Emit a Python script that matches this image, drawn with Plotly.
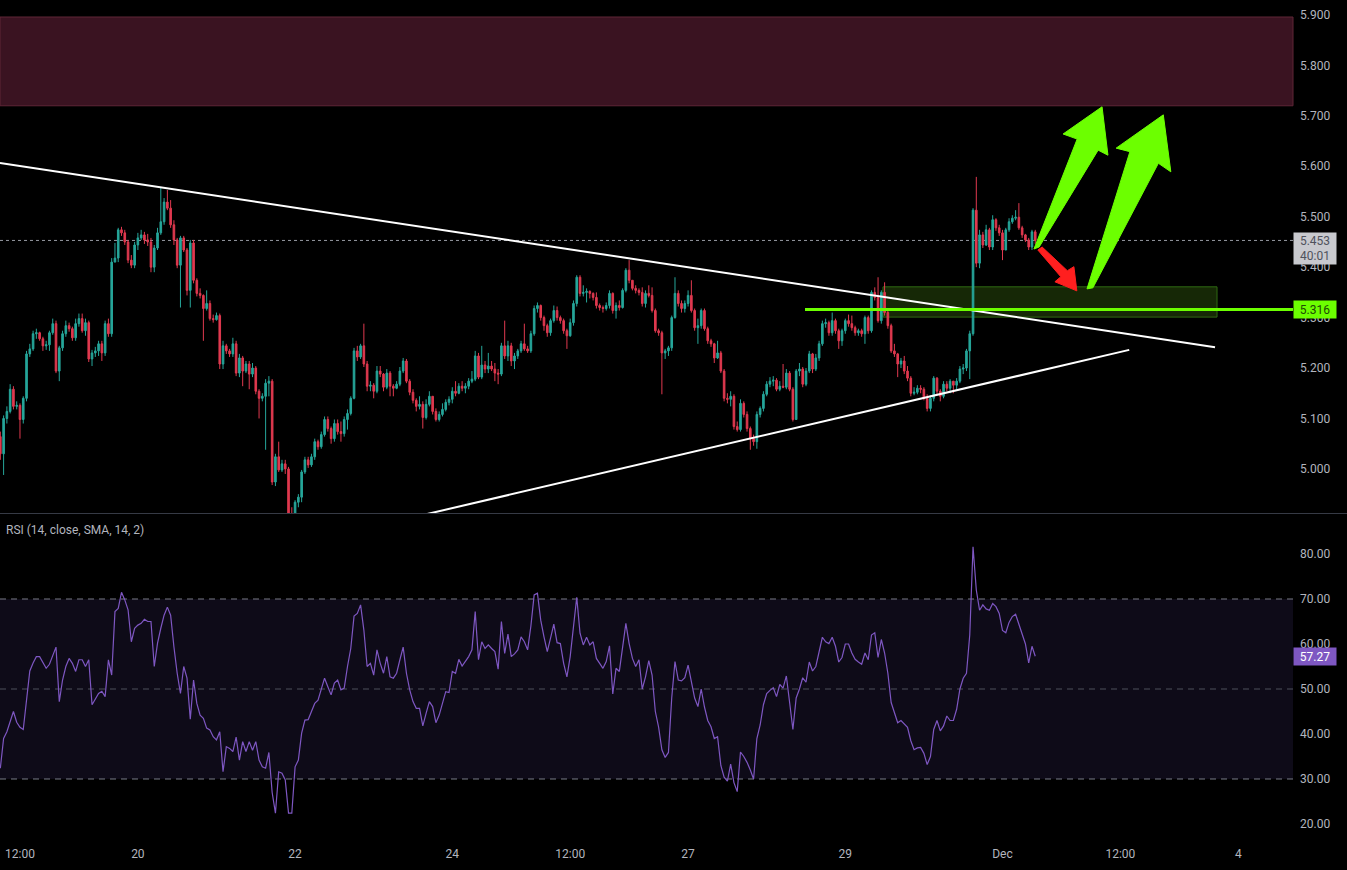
import pandas as pd
import plotly.graph_objects as go

# ---------------- data (hourly candles) ----------------
opens = [
    5.064, 5.030, 5.100, 5.114, 5.158, 5.124, 5.126, 5.098, 5.140, 5.228,
    5.238, 5.268, 5.270, 5.258, 5.244, 5.246, 5.270, 5.288, 5.194, 5.240,
    5.268, 5.284, 5.278, 5.260, 5.288, 5.298, 5.274, 5.290, 5.218, 5.230,
    5.234, 5.248, 5.230, 5.288, 5.268, 5.410, 5.418, 5.474, 5.468, 5.450,
    5.414, 5.404, 5.444, 5.458, 5.464, 5.454, 5.450, 5.400, 5.438, 5.468,
    5.490, 5.529, 5.517, 5.484, 5.454, 5.404, 5.458, 5.434, 5.354, 5.448,
    5.374, 5.348, 5.344, 5.318, 5.328, 5.298, 5.296, 5.304, 5.208, 5.244,
    5.234, 5.228, 5.248, 5.190, 5.220, 5.194, 5.208, 5.188, 5.200, 5.154,
    5.140, 5.144, 5.170, 5.174, 4.974, 5.024, 4.998, 5.010, 5.000, 4.910,
    4.904, 4.934, 4.944, 4.994, 5.018, 5.008, 5.024, 5.054, 5.044, 5.068,
    5.098, 5.080, 5.060, 5.090, 5.074, 5.070, 5.098, 5.110, 5.140, 5.234,
    5.222, 5.244, 5.208, 5.164, 5.166, 5.154, 5.194, 5.188, 5.162, 5.190,
    5.164, 5.160, 5.168, 5.194, 5.214, 5.174, 5.152, 5.136, 5.124, 5.128,
    5.102, 5.128, 5.144, 5.114, 5.098, 5.108, 5.118, 5.132, 5.138, 5.154,
    5.150, 5.164, 5.160, 5.164, 5.174, 5.178, 5.224, 5.182, 5.206, 5.198,
    5.204, 5.198, 5.190, 5.188, 5.244, 5.224, 5.244, 5.214, 5.224, 5.234,
    5.248, 5.238, 5.234, 5.268, 5.318, 5.324, 5.300, 5.284, 5.270, 5.294,
    5.314, 5.300, 5.294, 5.274, 5.264, 5.290, 5.328, 5.380, 5.348, 5.350,
    5.352, 5.348, 5.340, 5.324, 5.320, 5.318, 5.324, 5.348, 5.314, 5.324,
    5.320, 5.354, 5.394, 5.374, 5.358, 5.354, 5.350, 5.328, 5.348, 5.344,
    5.314, 5.274, 5.270, 5.230, 5.234, 5.240, 5.300, 5.348, 5.328, 5.318,
    5.328, 5.344, 5.314, 5.280, 5.284, 5.314, 5.278, 5.254, 5.248, 5.220,
    5.230, 5.194, 5.140, 5.138, 5.144, 5.084, 5.078, 5.130, 5.108, 5.080,
    5.060, 5.054, 5.108, 5.120, 5.148, 5.168, 5.174, 5.176, 5.158, 5.164,
    5.162, 5.190, 5.158, 5.098, 5.194, 5.198, 5.168, 5.194, 5.228, 5.198,
    5.220, 5.248, 5.288, 5.290, 5.270, 5.294, 5.274, 5.254, 5.274, 5.294,
    5.288, 5.280, 5.270, 5.274, 5.268, 5.300, 5.274, 5.350, 5.340, 5.294,
    5.350, 5.310, 5.284, 5.234, 5.228, 5.208, 5.214, 5.194, 5.180, 5.150,
    5.152, 5.160, 5.158, 5.140, 5.120, 5.140, 5.180, 5.154, 5.144, 5.168,
    5.160, 5.174, 5.166, 5.174, 5.198, 5.200, 5.234, 5.268, 5.513, 5.408,
    5.464, 5.444, 5.474, 5.440, 5.494, 5.478, 5.468, 5.434, 5.474, 5.490,
    5.497, 5.499, 5.478, 5.464, 5.454, 5.440, 5.470,
]
highs = [
    5.074, 5.106, 5.124, 5.168, 5.164, 5.134, 5.130, 5.144, 5.234, 5.248,
    5.274, 5.278, 5.272, 5.262, 5.254, 5.274, 5.298, 5.294, 5.244, 5.274,
    5.294, 5.290, 5.282, 5.298, 5.308, 5.308, 5.298, 5.294, 5.236, 5.242,
    5.254, 5.254, 5.294, 5.298, 5.418, 5.448, 5.478, 5.480, 5.474, 5.454,
    5.424, 5.450, 5.468, 5.474, 5.470, 5.466, 5.458, 5.444, 5.478, 5.559,
    5.537, 5.553, 5.533, 5.493, 5.458, 5.462, 5.462, 5.438, 5.454, 5.454,
    5.378, 5.358, 5.346, 5.354, 5.334, 5.306, 5.310, 5.308, 5.254, 5.248,
    5.238, 5.260, 5.254, 5.228, 5.224, 5.214, 5.214, 5.210, 5.204, 5.158,
    5.150, 5.178, 5.184, 5.178, 5.030, 5.054, 5.018, 5.018, 5.004, 4.924,
    4.938, 4.950, 4.998, 5.024, 5.024, 5.030, 5.060, 5.058, 5.074, 5.104,
    5.104, 5.084, 5.098, 5.098, 5.094, 5.104, 5.118, 5.144, 5.240, 5.244,
    5.248, 5.288, 5.214, 5.174, 5.170, 5.204, 5.204, 5.190, 5.198, 5.194,
    5.168, 5.174, 5.202, 5.220, 5.218, 5.178, 5.158, 5.140, 5.144, 5.134,
    5.138, 5.154, 5.144, 5.120, 5.114, 5.130, 5.138, 5.144, 5.162, 5.174,
    5.170, 5.174, 5.170, 5.180, 5.194, 5.234, 5.230, 5.244, 5.214, 5.230,
    5.214, 5.210, 5.198, 5.250, 5.294, 5.254, 5.250, 5.230, 5.238, 5.254,
    5.288, 5.244, 5.274, 5.324, 5.330, 5.326, 5.304, 5.288, 5.298, 5.324,
    5.322, 5.304, 5.298, 5.278, 5.298, 5.334, 5.384, 5.384, 5.364, 5.358,
    5.354, 5.350, 5.350, 5.328, 5.324, 5.330, 5.354, 5.350, 5.330, 5.334,
    5.358, 5.398, 5.414, 5.374, 5.364, 5.358, 5.360, 5.354, 5.364, 5.360,
    5.318, 5.278, 5.274, 5.238, 5.244, 5.304, 5.380, 5.354, 5.334, 5.334,
    5.354, 5.374, 5.318, 5.298, 5.318, 5.318, 5.282, 5.258, 5.250, 5.254,
    5.234, 5.198, 5.150, 5.154, 5.148, 5.094, 5.138, 5.134, 5.114, 5.084,
    5.068, 5.114, 5.124, 5.154, 5.174, 5.182, 5.184, 5.180, 5.174, 5.208,
    5.198, 5.194, 5.162, 5.198, 5.210, 5.202, 5.200, 5.234, 5.230, 5.228,
    5.254, 5.294, 5.298, 5.294, 5.310, 5.298, 5.278, 5.278, 5.298, 5.306,
    5.304, 5.284, 5.278, 5.278, 5.304, 5.304, 5.354, 5.360, 5.380, 5.354,
    5.370, 5.314, 5.288, 5.248, 5.230, 5.220, 5.224, 5.204, 5.184, 5.162,
    5.166, 5.166, 5.162, 5.148, 5.146, 5.184, 5.182, 5.158, 5.174, 5.174,
    5.178, 5.174, 5.180, 5.204, 5.208, 5.238, 5.274, 5.517, 5.579, 5.474,
    5.470, 5.484, 5.478, 5.503, 5.497, 5.484, 5.474, 5.478, 5.497, 5.503,
    5.513, 5.527, 5.482, 5.466, 5.458, 5.474, 5.474,
]
lows = [
    5.018, 4.988, 5.090, 5.110, 5.118, 5.118, 5.060, 5.090, 5.134, 5.222,
    5.234, 5.258, 5.254, 5.234, 5.236, 5.234, 5.266, 5.190, 5.174, 5.234,
    5.262, 5.272, 5.254, 5.254, 5.282, 5.270, 5.264, 5.212, 5.204, 5.222,
    5.224, 5.214, 5.224, 5.262, 5.262, 5.410, 5.410, 5.462, 5.444, 5.408,
    5.398, 5.398, 5.434, 5.454, 5.446, 5.442, 5.390, 5.390, 5.434, 5.464,
    5.484, 5.513, 5.478, 5.444, 5.398, 5.320, 5.430, 5.344, 5.320, 5.368,
    5.342, 5.338, 5.254, 5.314, 5.294, 5.290, 5.294, 5.198, 5.198, 5.228,
    5.222, 5.222, 5.184, 5.182, 5.164, 5.190, 5.158, 5.182, 5.148, 5.100,
    5.134, 5.038, 5.144, 4.968, 4.966, 4.994, 4.994, 4.990, 4.874, 4.864,
    4.894, 4.924, 4.934, 4.990, 5.002, 5.004, 5.018, 5.038, 5.040, 5.064,
    5.074, 5.050, 5.054, 5.068, 5.054, 5.064, 5.078, 5.106, 5.138, 5.214,
    5.218, 5.202, 5.154, 5.154, 5.140, 5.150, 5.182, 5.154, 5.158, 5.144,
    5.144, 5.158, 5.164, 5.190, 5.170, 5.146, 5.130, 5.114, 5.118, 5.080,
    5.098, 5.124, 5.108, 5.094, 5.094, 5.104, 5.114, 5.126, 5.130, 5.144,
    5.148, 5.154, 5.150, 5.158, 5.170, 5.174, 5.178, 5.178, 5.190, 5.190,
    5.194, 5.174, 5.168, 5.184, 5.218, 5.214, 5.204, 5.198, 5.218, 5.230,
    5.234, 5.230, 5.230, 5.264, 5.310, 5.294, 5.274, 5.262, 5.264, 5.290,
    5.294, 5.288, 5.268, 5.238, 5.262, 5.284, 5.322, 5.342, 5.342, 5.330,
    5.338, 5.334, 5.318, 5.314, 5.310, 5.314, 5.318, 5.308, 5.298, 5.314,
    5.318, 5.350, 5.368, 5.354, 5.348, 5.344, 5.322, 5.320, 5.340, 5.310,
    5.270, 5.264, 5.148, 5.218, 5.224, 5.234, 5.298, 5.322, 5.310, 5.310,
    5.322, 5.310, 5.274, 5.248, 5.278, 5.274, 5.248, 5.242, 5.210, 5.218,
    5.190, 5.134, 5.130, 5.124, 5.078, 5.074, 5.074, 5.102, 5.074, 5.038,
    5.046, 5.040, 5.102, 5.114, 5.144, 5.162, 5.164, 5.154, 5.154, 5.160,
    5.158, 5.154, 5.094, 5.098, 5.184, 5.162, 5.164, 5.190, 5.190, 5.194,
    5.214, 5.244, 5.280, 5.264, 5.264, 5.268, 5.238, 5.244, 5.268, 5.282,
    5.274, 5.264, 5.264, 5.262, 5.248, 5.268, 5.270, 5.334, 5.290, 5.288,
    5.304, 5.278, 5.230, 5.222, 5.182, 5.200, 5.188, 5.174, 5.144, 5.146,
    5.148, 5.150, 5.136, 5.114, 5.114, 5.134, 5.148, 5.134, 5.140, 5.154,
    5.150, 5.150, 5.158, 5.170, 5.188, 5.194, 5.178, 5.264, 5.400, 5.398,
    5.438, 5.442, 5.434, 5.434, 5.472, 5.462, 5.414, 5.434, 5.470, 5.486,
    5.493, 5.474, 5.458, 5.450, 5.434, 5.434, 5.446,
]
closes = [
    5.030, 5.100, 5.114, 5.158, 5.124, 5.126, 5.098, 5.140, 5.228, 5.238,
    5.268, 5.270, 5.258, 5.244, 5.246, 5.270, 5.288, 5.194, 5.240, 5.268,
    5.284, 5.278, 5.260, 5.288, 5.298, 5.274, 5.290, 5.218, 5.230, 5.234,
    5.248, 5.230, 5.288, 5.268, 5.410, 5.418, 5.474, 5.468, 5.450, 5.414,
    5.404, 5.444, 5.458, 5.464, 5.454, 5.450, 5.400, 5.438, 5.468, 5.490,
    5.529, 5.517, 5.484, 5.454, 5.404, 5.458, 5.434, 5.354, 5.448, 5.374,
    5.348, 5.344, 5.318, 5.328, 5.298, 5.296, 5.304, 5.208, 5.244, 5.234,
    5.228, 5.248, 5.190, 5.220, 5.194, 5.208, 5.188, 5.200, 5.154, 5.140,
    5.144, 5.170, 5.174, 4.974, 5.024, 4.998, 5.010, 5.000, 4.910, 4.904,
    4.934, 4.944, 4.994, 5.018, 5.008, 5.024, 5.054, 5.044, 5.068, 5.098,
    5.080, 5.060, 5.090, 5.074, 5.070, 5.098, 5.110, 5.140, 5.234, 5.222,
    5.244, 5.208, 5.164, 5.166, 5.154, 5.194, 5.188, 5.162, 5.190, 5.164,
    5.160, 5.168, 5.194, 5.214, 5.174, 5.152, 5.136, 5.124, 5.128, 5.102,
    5.128, 5.144, 5.114, 5.098, 5.108, 5.118, 5.132, 5.138, 5.154, 5.150,
    5.164, 5.160, 5.164, 5.174, 5.178, 5.224, 5.182, 5.206, 5.198, 5.204,
    5.198, 5.190, 5.188, 5.244, 5.224, 5.244, 5.214, 5.224, 5.234, 5.248,
    5.238, 5.234, 5.268, 5.318, 5.324, 5.300, 5.284, 5.270, 5.294, 5.314,
    5.300, 5.294, 5.274, 5.264, 5.290, 5.328, 5.380, 5.348, 5.350, 5.352,
    5.348, 5.340, 5.324, 5.320, 5.318, 5.324, 5.348, 5.314, 5.324, 5.320,
    5.354, 5.394, 5.374, 5.358, 5.354, 5.350, 5.328, 5.348, 5.344, 5.314,
    5.274, 5.270, 5.230, 5.234, 5.240, 5.300, 5.348, 5.328, 5.318, 5.328,
    5.344, 5.314, 5.280, 5.284, 5.314, 5.278, 5.254, 5.248, 5.220, 5.230,
    5.194, 5.140, 5.138, 5.144, 5.084, 5.078, 5.130, 5.108, 5.080, 5.060,
    5.054, 5.108, 5.120, 5.148, 5.168, 5.174, 5.176, 5.158, 5.164, 5.162,
    5.190, 5.158, 5.098, 5.194, 5.198, 5.168, 5.194, 5.228, 5.198, 5.220,
    5.248, 5.288, 5.290, 5.270, 5.294, 5.274, 5.254, 5.274, 5.294, 5.288,
    5.280, 5.270, 5.274, 5.268, 5.300, 5.274, 5.350, 5.340, 5.294, 5.350,
    5.310, 5.284, 5.234, 5.228, 5.208, 5.214, 5.194, 5.180, 5.150, 5.152,
    5.160, 5.158, 5.140, 5.120, 5.140, 5.180, 5.154, 5.144, 5.168, 5.160,
    5.174, 5.166, 5.174, 5.198, 5.200, 5.234, 5.268, 5.513, 5.408, 5.464,
    5.444, 5.474, 5.440, 5.494, 5.478, 5.468, 5.434, 5.474, 5.490, 5.497,
    5.499, 5.478, 5.464, 5.454, 5.440, 5.470, 5.453,
]
rsi_values = [
    32.4, 39.0, 40.5, 43.0, 45.0, 42.6, 41.5, 41.0, 47.0, 54.0,
    55.8, 57.2, 57.2, 55.8, 54.6, 55.5, 57.5, 59.3, 47.2, 52.0,
    55.0, 56.8, 55.7, 53.9, 56.5, 56.5, 55.0, 56.5, 46.5, 47.9,
    49.0, 49.5, 48.3, 56.5, 53.1, 67.2, 67.9, 71.5, 69.8, 67.6,
    60.5, 63.5, 64.2, 64.6, 65.5, 65.0, 65.0, 55.0, 60.2, 63.5,
    66.4, 68.2, 66.4, 59.4, 53.5, 49.0, 55.0, 52.4, 43.3, 52.0,
    46.8, 44.2, 43.5, 41.3, 40.9, 39.4, 38.7, 40.5, 31.6, 37.2,
    36.8, 36.1, 39.3, 34.2, 38.3, 36.1, 38.3, 36.4, 38.3, 34.2,
    32.7, 32.4, 35.9, 27.0, 22.4, 31.6, 31.3, 29.8, 22.4, 22.4,
    32.7, 34.2, 40.2, 43.1, 43.2, 45.0, 46.8, 47.5, 50.0, 52.4,
    50.5, 48.7, 51.3, 52.0, 49.8, 50.2, 55.0, 59.0, 66.2, 66.8,
    68.7, 63.1, 55.0, 55.7, 53.1, 58.7, 55.7, 53.5, 57.2, 52.7,
    52.4, 53.5, 56.5, 59.3, 53.5, 49.8, 47.2, 45.7, 45.7, 41.8,
    44.6, 47.2, 46.1, 42.5, 44.2, 46.8, 49.4, 49.2, 53.9, 53.5,
    56.6, 55.1, 56.1, 57.2, 58.7, 67.2, 56.5, 60.5, 59.0, 59.8,
    59.0, 58.3, 54.4, 65.0, 57.9, 62.2, 57.2, 57.8, 58.7, 61.6,
    60.5, 58.7, 64.0, 70.9, 71.3, 65.3, 61.6, 58.3, 61.3, 64.4,
    60.3, 60.1, 55.7, 52.7, 57.2, 63.9, 70.4, 62.4, 59.8, 61.5,
    59.8, 60.5, 56.8, 55.7, 54.6, 56.1, 59.6, 48.9, 54.6, 53.9,
    59.4, 64.6, 60.1, 56.8, 55.0, 56.5, 50.0, 52.7, 56.3, 53.1,
    45.0, 41.5, 36.5, 34.8, 35.9, 48.0, 56.1, 52.0, 51.8, 52.5,
    55.3, 52.0, 48.0, 46.1, 50.0, 46.0, 43.0, 41.6, 39.0, 39.4,
    33.0, 30.4, 29.5, 33.3, 29.2, 27.2, 36.0, 35.0, 33.7, 32.0,
    30.0, 39.0, 42.0, 46.5, 49.0, 49.7, 50.3, 48.3, 51.0, 50.2,
    52.9, 47.0, 41.0, 48.0, 50.0, 52.5, 51.5, 56.0, 54.0, 55.0,
    58.0, 61.5, 60.5, 60.1, 61.5, 59.5, 56.0, 57.0, 60.0, 60.0,
    58.0, 56.6, 56.0, 55.5, 58.0, 56.5, 62.0, 62.5, 57.0, 61.0,
    58.0, 53.5, 47.0, 44.6, 42.5, 43.0, 42.3, 41.5, 38.5, 36.5,
    36.9, 37.0, 35.7, 33.2, 35.0, 41.0, 43.0, 40.7, 41.8, 44.0,
    43.0, 43.0, 45.5, 50.0, 52.4, 53.5, 62.0, 81.6, 72.0, 67.5,
    68.7, 67.8, 67.5, 69.0, 68.3, 66.8, 63.0, 62.5, 64.8, 66.1,
    66.6, 64.5, 62.0, 60.0, 55.8, 59.5, 57.27,
]

first_candle = "2024-11-18 06:00"
x_range = ["2024-11-18 05:54", "2024-12-04 16:42"]
price_range = [4.9126, 5.9297]
rsi_range = [15.33, 88.89]

price_ticks = [5.0, 5.1, 5.2, 5.3, 5.4, 5.5, 5.6, 5.7, 5.8, 5.9]
rsi_ticks = [20, 30, 40, 50, 60, 70, 80]
time_ticks = ["2024-11-18 12:00", "2024-11-20", "2024-11-22", "2024-11-24",
              "2024-11-25 12:00", "2024-11-27", "2024-11-29", "2024-12-01",
              "2024-12-02 12:00", "2024-12-04"]
time_labels = ["12:00", "20", "22", "24", "12:00", "27", "29", "Dec", "12:00", "4"]

last_price = 5.453
countdown = "40:01"
level_price = 5.316
level_start = "2024-11-28 11:42"
supply_zone = [5.720, 5.896]
demand_zone_time = ["2024-11-29 11:30", "2024-12-03 17:30"]
demand_zone_price = [5.301, 5.361]
upper_trend_time = ["2024-11-18 05:54", "2024-12-03 16:54"]
upper_trend_price = [5.6067, 5.2413]
lower_trend_time = ["2024-11-23 08:00", "2024-12-02 14:42"]
lower_trend_price = [4.898, 5.236]
last_rsi = 57.27

# arrow outlines: (hours after 2024-11-18 00:00, price)
arrow_base = pd.Timestamp("2024-11-18 00:00")
green_arrow_1 = [(321.6, 5.436), (334.8, 5.654), (330.5, 5.664), (342.4, 5.718),
                 (344.2, 5.622), (341.2, 5.632), (323.2, 5.440)]
green_arrow_2 = [(337.8, 5.357), (350.9, 5.629), (346.7, 5.636), (361.1, 5.702),
                 (363.4, 5.589), (359.6, 5.606), (339.6, 5.359)]
red_arrow = [(322.8, 5.434), (329.8, 5.381), (328.0, 5.371), (334.7, 5.353),
             (333.8, 5.401), (331.8, 5.393), (324.1, 5.440)]

# ---------------- figure ----------------
times = pd.date_range(first_candle, periods=len(closes), freq="h")
rsi_times = pd.date_range(first_candle, periods=len(rsi_values), freq="h")

UP = "#26a69a"
DOWN = "#e0394f"
LIME = "#6cff00"
AXIS_TXT = "#b2b5be"
FONT = "Roboto"

fig = go.Figure()

fig.add_trace(go.Candlestick(
    x=times, open=opens, high=highs, low=lows, close=closes,
    increasing=dict(line=dict(color=UP, width=1), fillcolor=UP),
    decreasing=dict(line=dict(color=DOWN, width=1), fillcolor=DOWN),
    xaxis="x", yaxis="y", hoverinfo="skip", showlegend=False,
))

fig.add_trace(go.Scatter(x=upper_trend_time, y=upper_trend_price, mode="lines",
                         line=dict(color="#ffffff", width=2), xaxis="x", yaxis="y",
                         hoverinfo="skip", showlegend=False))
fig.add_trace(go.Scatter(x=lower_trend_time, y=lower_trend_price, mode="lines",
                         line=dict(color="#ffffff", width=2), xaxis="x", yaxis="y",
                         hoverinfo="skip", showlegend=False))


def arrow_trace(points, color):
    xs = [arrow_base + pd.Timedelta(hours=h) for h, _ in points]
    ys = [p for _, p in points]
    xs.append(xs[0])
    ys.append(ys[0])
    return go.Scatter(x=xs, y=ys, mode="lines", fill="toself", fillcolor=color,
                      line=dict(color=color, width=1), xaxis="x", yaxis="y",
                      hoverinfo="skip", showlegend=False)


fig.add_trace(arrow_trace(green_arrow_1, LIME))
fig.add_trace(arrow_trace(green_arrow_2, LIME))
fig.add_trace(arrow_trace(red_arrow, "#ff1f1f"))

fig.add_trace(go.Scatter(x=rsi_times, y=rsi_values, mode="lines",
                         line=dict(color="#7e57c2", width=1.2), xaxis="x2", yaxis="y2",
                         hoverinfo="skip", showlegend=False))

shapes = [
    # supply zone
    dict(type="rect", xref="paper", x0=0, x1=1, yref="y", y0=supply_zone[0], y1=supply_zone[1],
         fillcolor="#3a1321", line=dict(color="#5e2637", width=1), layer="below"),
    # demand zone
    dict(type="rect", xref="x", x0=demand_zone_time[0], x1=demand_zone_time[1], yref="y",
         y0=demand_zone_price[0], y1=demand_zone_price[1],
         fillcolor="rgba(110,200,30,0.20)", line=dict(color="#2f6a12", width=1), layer="below"),
    # last price dotted line
    dict(type="line", xref="paper", x0=0, x1=1, yref="y", y0=last_price, y1=last_price,
         line=dict(color="#9598a1", width=1, dash="dot"), layer="below"),
    # horizontal level
    dict(type="line", xref="x", x0=level_start, x1=x_range[1], yref="y", y0=level_price,
         y1=level_price, line=dict(color=LIME, width=3), layer="above"),
    # RSI band
    dict(type="rect", xref="paper", x0=0, x1=1, yref="y2", y0=30, y1=70,
         fillcolor="#0e0b18", line=dict(width=0), layer="below"),
    dict(type="line", xref="paper", x0=0, x1=1, yref="y2", y0=70, y1=70,
         line=dict(color="#787b86", width=1, dash="6px,5px"), layer="below"),
    dict(type="line", xref="paper", x0=0, x1=1, yref="y2", y0=50, y1=50,
         line=dict(color="#4d505b", width=1, dash="6px,5px"), layer="below"),
    dict(type="line", xref="paper", x0=0, x1=1, yref="y2", y0=30, y1=30,
         line=dict(color="#787b86", width=1, dash="6px,5px"), layer="below"),
    # pane divider
    dict(type="line", xref="paper", x0=0, x1=1.05, yref="paper", y0=0.3923, y1=0.3923,
         line=dict(color="#363a45", width=1)),
]

annotations = [
    dict(xref="paper", x=0.003, yref="paper", y=0.3728, xanchor="left", yanchor="middle",
         text="RSI (14, close, SMA, 14, 2)", showarrow=False,
         font=dict(family=FONT, size=12, color=AXIS_TXT)),
    dict(xref="paper", x=1, xanchor="left", yref="y", y=5.470, yanchor="top",
         text=f"{last_price:.3f}<br>{countdown}", showarrow=False, bgcolor="#c8c9ce",
         font=dict(family=FONT, size=12, color="#4f525c"), width=38, height=27,
         borderpad=2, align="center"),
    dict(xref="paper", x=1, xanchor="left", yref="y", y=level_price, yanchor="middle",
         text=f"{level_price:.3f}", showarrow=False, bgcolor=LIME,
         font=dict(family=FONT, size=12, color="#1e4a05"), width=38, height=13, borderpad=2),
    dict(xref="paper", x=1, xanchor="left", yref="y2", y=last_rsi, yanchor="middle",
         text=f"{last_rsi:.2f}", showarrow=False, bgcolor="#7e57c2",
         font=dict(family=FONT, size=12, color="#ffffff"), width=38, height=13, borderpad=2),
]

axis_font = dict(family=FONT, size=12, color=AXIS_TXT)

fig.update_layout(
    width=1347, height=870,
    margin=dict(l=0, r=54, t=0, b=25),
    paper_bgcolor="#000000", plot_bgcolor="#000000",
    showlegend=False, hovermode=False,
    shapes=shapes, annotations=annotations,
    xaxis=dict(domain=[0, 1], anchor="y", type="date", range=x_range, showgrid=False,
               zeroline=False, showline=False, showticklabels=False, ticks="",
               rangeslider=dict(visible=False), fixedrange=True),
    xaxis2=dict(domain=[0, 1], anchor="y2", type="date", range=x_range, matches="x",
                showgrid=False, zeroline=False, showline=False, ticks="",
                tickmode="array", tickvals=time_ticks, ticktext=time_labels,
                tickfont=axis_font, fixedrange=True),
    yaxis=dict(domain=[0.3929, 1], anchor="x", side="right", range=price_range,
               showgrid=False, zeroline=False, showline=False, ticks="",
               tickmode="array", tickvals=price_ticks,
               ticktext=[f"{v:.3f}" for v in price_ticks], tickfont=axis_font,
               ticklabelstandoff=6, fixedrange=True),
    yaxis2=dict(domain=[0, 0.3917], anchor="x2", side="right", range=rsi_range,
                showgrid=False, zeroline=False, showline=False, ticks="",
                tickmode="array", tickvals=rsi_ticks,
                ticktext=[f"{v:.2f}" for v in rsi_ticks], tickfont=axis_font,
                ticklabelstandoff=6, fixedrange=True),
)

fig.write_html("out.html", config={"displayModeBar": False})
